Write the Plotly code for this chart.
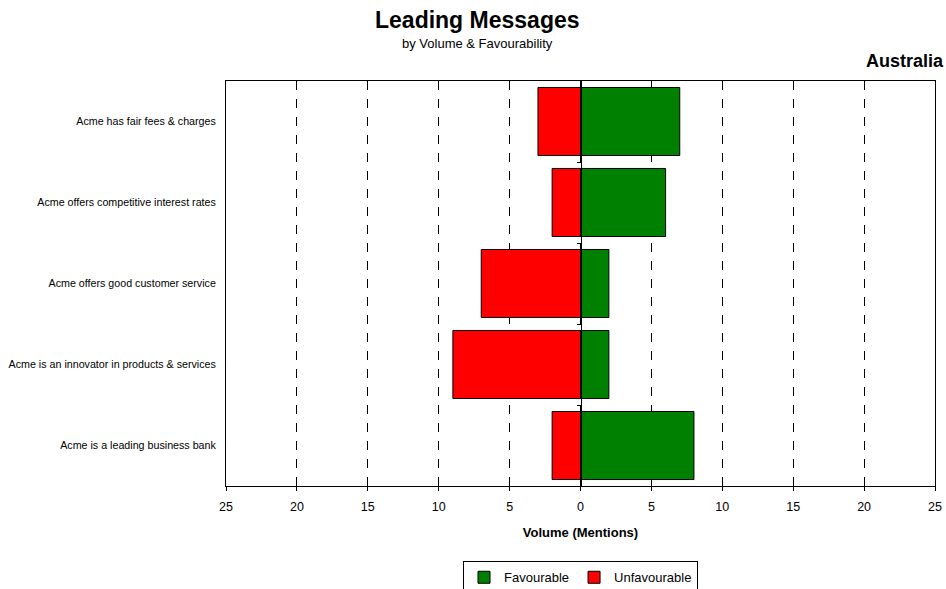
import plotly.graph_objects as go

categories = [
    "Acme has fair fees & charges",
    "Acme offers competitive interest rates",
    "Acme offers good customer service",
    "Acme is an innovator in products & services",
    "Acme is a leading business bank",
]
favourable = [7, 6, 2, 2, 8]
unfavourable = [3, 2, 7, 9, 2]
tick_vals = [-25, -20, -15, -10, -5, 0, 5, 10, 15, 20, 25]
tick_text = [str(abs(v)) for v in tick_vals]

FONT = "Liberation Sans, Arial, sans-serif"

fig = go.Figure()
fig.add_trace(go.Bar(
    y=categories, x=favourable, orientation="h", name="Favourable",
    marker=dict(color="#008000", line=dict(color="black", width=1)),
    width=0.84,
))
fig.add_trace(go.Bar(
    y=categories, x=[-v for v in unfavourable], orientation="h", name="Unfavourable",
    marker=dict(color="#FF0000", line=dict(color="black", width=1)),
    width=0.84,
))
# invisible trace to carry the centre axis
fig.add_trace(go.Scatter(x=[0], y=[0], yaxis="y2", mode="markers",
                         marker=dict(opacity=0), showlegend=False, hoverinfo="skip"))

fig.update_layout(
    width=946, height=589,
    margin=dict(l=226, r=11, t=81, b=103, autoexpand=False),
    paper_bgcolor="white", plot_bgcolor="white",
    barmode="relative",
    font=dict(family=FONT, color="black", size=11),
    showlegend=True,
    legend=dict(
        orientation="h", x=0.5, xanchor="center", y=-0.186, yanchor="top",
        bordercolor="black", borderwidth=1, font=dict(size=13),
        traceorder="normal", itemwidth=30, tracegroupgap=0,
    ),
    xaxis=dict(
        range=[-25, 25], tickvals=tick_vals, ticktext=tick_text,
        showgrid=True, gridcolor="black", griddash="dash", gridwidth=1,
        zeroline=False, showline=True, linecolor="black", linewidth=1, mirror=True,
        ticks="outside", ticklen=4, tickcolor="black", ticklabelstandoff=5,
        tickfont=dict(size=12.5), automargin=False,
        title=dict(text="<b>Volume (Mentions)</b>", font=dict(size=13), standoff=14),
        fixedrange=True,
    ),
    yaxis=dict(
        categoryorder="array", categoryarray=categories[::-1],
        showline=True, linecolor="black", linewidth=1, mirror=True,
        ticks="", tickfont=dict(size=10.7), ticklabelstandoff=7, automargin=False,
        showgrid=False, zeroline=False,
    ),
    yaxis2=dict(
        overlaying="y", anchor="free", position=0.5, range=[-0.5, 4.5],
        tickvals=[0.5, 1.5, 2.5, 3.5], ticks="outside", ticklen=4, tickcolor="black",
        showticklabels=False, showline=True, linecolor="black", linewidth=1,
        showgrid=False, zeroline=False, automargin=False,
    ),
    annotations=[
        dict(text="<b>Leading Messages</b>", x=0.355, y=1, xref="paper", yref="paper",
             yanchor="middle", showarrow=False, font=dict(size=23), yshift=61),
        dict(text="by Volume & Favourability", x=0.355, y=1, xref="paper", yref="paper",
             yanchor="middle", showarrow=False, font=dict(size=13), yshift=38),
        dict(text="<b>Australia</b>", x=1.0, y=1, xref="paper", yref="paper",
             xanchor="right", yanchor="middle", showarrow=False, font=dict(size=18),
             xshift=11, yshift=20),
    ],
)
fig.write_html("out.html")
